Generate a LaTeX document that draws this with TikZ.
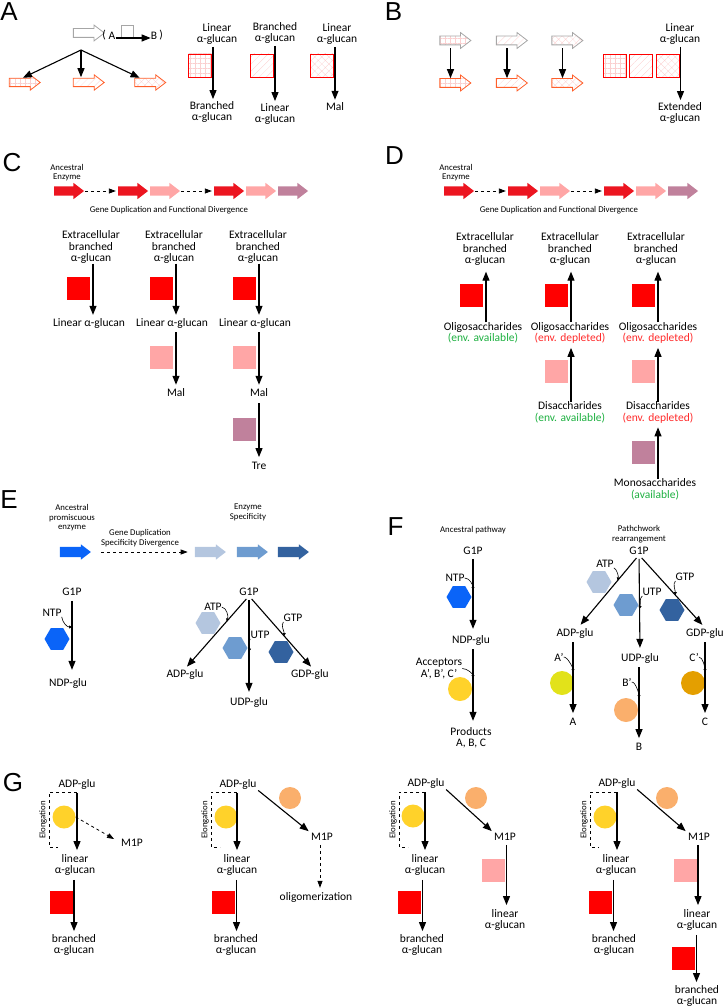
\documentclass[tikz,border=0pt]{standalone}
\usepackage{fontspec}
\setmainfont{Carlito}
\newfontfamily\letterfont{Liberation Sans}
\usetikzlibrary{arrows.meta,shapes.arrows,shapes.geometric,patterns.meta,calc}

\definecolor{greyline}{HTML}{A6A6A6}
\definecolor{orangeline}{HTML}{FF5F2A}
\definecolor{hatchpink}{HTML}{FAD0D0}
\definecolor{enzred}{HTML}{FF0000}
\definecolor{hdrred}{HTML}{EC1520}
\definecolor{enzpink}{HTML}{FFA6A6}
\definecolor{enzmauve}{HTML}{C0819C}
\definecolor{ancblue}{HTML}{0A64F8}
\definecolor{blueA}{HTML}{B4C6DF}
\definecolor{blueU}{HTML}{6E9CD0}
\definecolor{blueG}{HTML}{33629F}
\definecolor{accyellow}{HTML}{FFD22A}
\definecolor{acclime}{HTML}{E2E21A}
\definecolor{accpeach}{HTML}{FAAF6C}
\definecolor{accamber}{HTML}{E49F00}
\definecolor{envgreen}{HTML}{1DB040}
\definecolor{envred}{HTML}{FF2A2A}

\tikzset{
  lbl/.style={font=\fontsize{11.5}{11.5}\selectfont, align=center, inner sep=0pt},
  smalltxt/.style={font=\fontsize{8.8}{9.5}\selectfont, align=center, inner sep=0pt},
  panel/.style={font=\letterfont\fontsize{26}{26}\selectfont, inner sep=0pt},
  blockarrow/.style={single arrow, single arrow head extend=3.5pt, single arrow tip angle=75,
    inner xsep=0pt, inner ysep=4pt, text height=0pt, text depth=0pt, minimum height=31pt},
  hdrarrow/.style={blockarrow, inner ysep=4.5pt, minimum height=30pt},
  gridfill/.style={pattern={Hatch[angle=0,distance=5pt,line width=.3pt]}, pattern color=hatchpink},
  linefill/.style={pattern={Lines[angle=45,distance=5pt,line width=.3pt]}, pattern color=hatchpink},
  crossfill/.style={pattern={Hatch[angle=45,distance=5pt,line width=.3pt]}, pattern color=hatchpink},
  sqhatch/.style={draw=enzred, line width=.8pt, minimum size=23pt, inner sep=0pt, outer xsep=1.5pt},
  sqfill/.style={minimum size=23pt, inner sep=0pt, outer xsep=1.5pt},
  hexnode/.style={regular polygon, regular polygon sides=6, minimum size=25pt, inner sep=0pt},
  dotnode/.style={circle, minimum size=24pt, inner sep=0pt},
  flow/.style={->, line width=1.1pt},
  dashflow/.style={dashed, line width=.8pt, -{Triangle[length=7pt,width=5pt]}},
  curvy/.style={line width=.6pt, -{Triangle[length=3pt,width=3pt]}},
}

\begin{document}
\begin{tikzpicture}[x=1pt,y=-1pt,>={Triangle[length=9pt,width=7pt]}]
\useasboundingbox (0,0) rectangle (724,1008);

%% A
\node[panel] (labA) at (9,12) {A};
\node[blockarrow, draw=greyline, line width=.8pt] (ancA) at (86,33) {};
\node[lbl] (parAo) at (104,35) {(};
\node[lbl] (subA) at (112,36) {A};
\node[draw=greyline, line width=.8pt, minimum size=12pt, inner sep=0pt] (boxA) at (127,31) {};
\node[lbl] (subB) at (154,36) {B};
\node[lbl] (parAc) at (161,35) {)};
\draw[flow] ([yshift=-2pt]subA.east) -- ([yshift=-2pt]subB.west);
\coordinate (splitA) at (81,50);
\node[blockarrow, draw=orangeline, line width=.8pt, gridfill] (orgA1) at (22,82.5) {};
\node[blockarrow, draw=orangeline, line width=.8pt, linefill] (orgA2) at (86,82.5) {};
\node[blockarrow, draw=orangeline, line width=.8pt, crossfill] (orgA3) at (147.5,82.5) {};
\draw[flow, shorten >=1pt] (splitA) -- (orgA1.north);
\draw[flow, shorten >=1pt] (splitA) -- (splitA |- orgA2.north);
\draw[flow, shorten >=1pt] (splitA) -- ([xshift=-7pt]orgA3.north);
%%
\node[lbl] (linA1) at (217,34) {Linear\\α-glucan};
\node[sqhatch, gridfill] (sqA1) at (200,65.5) {};
\node[lbl] (brA1) at (212,112) {Branched\\α-glucan};
\draw[flow, shorten <=2pt, shorten >=2pt] (linA1.south -| sqA1.east) -- (brA1.north -| sqA1.east);
\node[lbl] (brA2) at (275,33) {Branched\\α-glucan};
\node[sqhatch, linefill] (sqA2) at (262,65.5) {};
\node[lbl] (linA2) at (275,114) {Linear\\α-glucan};
\draw[flow, shorten <=2pt, shorten >=2pt] (brA2.south -| sqA2.east) -- (linA2.north -| sqA2.east);
\node[lbl] (linA3) at (337,34) {Linear\\α-glucan};
\node[sqhatch, crossfill] (sqA3) at (322,65.5) {};
\node[lbl] (malA) at (335,107) {Mal};
\draw[flow, shorten <=2pt, shorten >=3pt] (linA3.south -| sqA3.east) -- (malA.north -| sqA3.east);

%% B
\node[panel] (labB) at (393.5,12) {B};
\node[blockarrow, draw=greyline, line width=.8pt, gridfill] (greyB1) at (452.5,40.5) {};
\node[blockarrow, draw=greyline, line width=.8pt, linefill] (greyB2) at (509,40.5) {};
\node[blockarrow, draw=greyline, line width=.8pt, crossfill] (greyB3) at (564.5,40.5) {};
\node[blockarrow, draw=orangeline, line width=.8pt, gridfill] (orgB1) at (452.5,83) {};
\node[blockarrow, draw=orangeline, line width=.8pt, linefill] (orgB2) at (509,83) {};
\node[blockarrow, draw=orangeline, line width=.8pt, crossfill] (orgB3) at (564.5,83) {};
\draw[flow, shorten <=3pt] ([xshift=-2pt]greyB1.south) -- ([xshift=-2pt]orgB1.north);
\draw[flow, shorten <=3pt] ([xshift=-2pt]greyB2.south) -- ([xshift=-2pt]orgB2.north);
\draw[flow, shorten <=3pt] ([xshift=-2pt]greyB3.south) -- ([xshift=-2pt]orgB3.north);
\node[sqhatch, gridfill] (sqB1) at (615,66) {};
\node[sqhatch, linefill] (sqB2) at (641,66) {};
\node[sqhatch, crossfill] (sqB3) at (667.5,66) {};
\node[lbl] (linB) at (680,34) {Linear\\α-glucan};
\node[lbl] (extB) at (680,113) {Extended\\α-glucan};
\draw[flow, shorten <=2pt, shorten >=2pt] (linB.south -| sqB3.east) -- (extB.north -| sqB3.east);

%% C
\node[panel] (labC) at (12,163) {C};
\node[smalltxt] (ancC) at (67,172.5) {Ancestral\\Enzyme};
\node[hdrarrow, fill=hdrred] (hC1) at (66,191) {};
\node[hdrarrow, fill=hdrred] (hC2) at (130,191) {};
\node[hdrarrow, fill=enzpink] (hC3) at (162,191) {};
\node[hdrarrow, fill=hdrred] (hC4) at (226,191) {};
\node[hdrarrow, fill=enzpink] (hC5) at (258,191) {};
\node[hdrarrow, fill=enzmauve] (hC6) at (290,191) {};
\draw[dashflow, shorten <=1pt, shorten >=2pt] (hC1.east) -- (hC2.west);
\draw[dashflow, shorten <=1pt, shorten >=2pt] (hC3.east) -- (hC4.west);
\node[smalltxt] (geneC) at (169,210) {Gene Duplication and Functional Divergence};
%%
\node[lbl] (extC1) at (91,247) {Extracellular\\branched\\α-glucan};
\node[sqfill, fill=enzred, outer xsep=3pt] (sqC1) at (78.5,288.5) {};
\node[lbl] (linC1) at (89,323) {Linear α-glucan};
\draw[flow, shorten >=3pt] (extC1.south -| sqC1.east) -- (linC1.north -| sqC1.east);
\node[lbl] (extC2) at (174,247) {Extracellular\\branched\\α-glucan};
\node[sqfill, fill=enzred, outer xsep=3pt] (sqC2) at (161.5,288.5) {};
\node[lbl] (linC2) at (172,323) {Linear α-glucan};
\draw[flow, shorten >=3pt] (extC2.south -| sqC2.east) -- (linC2.north -| sqC2.east);
\node[sqfill, fill=enzpink, outer xsep=3pt] (sqC2b) at (161.5,357.5) {};
\node[lbl] (malC2) at (176,393) {Mal};
\draw[flow, shorten <=4pt, shorten >=4pt] (linC2.south -| sqC2b.east) -- (malC2.north -| sqC2b.east);
\node[lbl] (extC3) at (258,247) {Extracellular\\branched\\α-glucan};
\node[sqfill, fill=enzred, outer xsep=3pt] (sqC3) at (244.5,288.5) {};
\node[lbl] (linC3) at (255,323) {Linear α-glucan};
\draw[flow, shorten >=3pt] (extC3.south -| sqC3.east) -- (linC3.north -| sqC3.east);
\node[sqfill, fill=enzpink, outer xsep=3pt] (sqC3b) at (244.5,357.5) {};
\node[lbl] (malC3) at (259,393) {Mal};
\draw[flow, shorten <=4pt, shorten >=4pt] (linC3.south -| sqC3b.east) -- (malC3.north -| sqC3b.east);
\node[sqfill, fill=enzmauve, outer xsep=3pt] (sqC3c) at (244.5,429) {};
\node[lbl] (treC) at (259,466) {Tre};
\draw[flow, shorten <=6pt, shorten >=5pt] (malC3.south -| sqC3c.east) -- (treC.north -| sqC3c.east);

%% D
\node[panel] (labD) at (394.5,156) {D};
\node[smalltxt] (ancD) at (456,172.5) {Ancestral\\Enzyme};
\node[hdrarrow, fill=hdrred] (hD1) at (456,191) {};
\node[hdrarrow, fill=hdrred] (hD2) at (520,191) {};
\node[hdrarrow, fill=enzpink] (hD3) at (552,191) {};
\node[hdrarrow, fill=hdrred] (hD4) at (616,191) {};
\node[hdrarrow, fill=enzpink] (hD5) at (648,191) {};
\node[hdrarrow, fill=enzmauve] (hD6) at (680,191) {};
\draw[dashflow, shorten <=1pt, shorten >=2pt] (hD1.east) -- (hD2.west);
\draw[dashflow, shorten <=1pt, shorten >=2pt] (hD3.east) -- (hD4.west);
\node[smalltxt] (geneD) at (559,210) {Gene Duplication and Functional Divergence};
%%
\node[lbl] (extD1) at (485,249) {Extracellular\\branched\\α-glucan};
\node[sqfill, fill=enzred, outer xsep=3pt] (sqD1) at (471.5,295.5) {};
\node[lbl] (oligD1) at (483,333) {Oligosaccharides\\\textcolor{envgreen}{(env. available)}};
\draw[flow, shorten >=6pt] (oligD1.north -| sqD1.east) -- (extD1.south -| sqD1.east);
\node[lbl] (extD2) at (570,249) {Extracellular\\branched\\α-glucan};
\node[sqfill, fill=enzred, outer xsep=3pt] (sqD2) at (556.5,295.5) {};
\node[lbl] (oligD2) at (570,333) {Oligosaccharides\\\textcolor{envred}{(env. depleted)}};
\draw[flow, shorten >=6pt] (oligD2.north -| sqD2.east) -- (extD2.south -| sqD2.east);
\node[sqfill, fill=enzpink, outer xsep=3pt] (sqD2b) at (556.5,371.5) {};
\node[lbl] (disD2) at (570,412.5) {Disaccharides\\\textcolor{envgreen}{(env. available)}};
\draw[flow, shorten >=4pt] (disD2.north -| sqD2b.east) -- (oligD2.south -| sqD2b.east);
\node[lbl] (extD3) at (656,249) {Extracellular\\branched\\α-glucan};
\node[sqfill, fill=enzred, outer xsep=3pt] (sqD3) at (643.5,295.5) {};
\node[lbl] (oligD3) at (658,333) {Oligosaccharides\\\textcolor{envred}{(env. depleted)}};
\draw[flow, shorten >=6pt] (oligD3.north -| sqD3.east) -- (extD3.south -| sqD3.east);
\node[sqfill, fill=enzpink, outer xsep=3pt] (sqD3b) at (643.5,371.5) {};
\node[lbl] (disD3) at (658,412.5) {Disaccharides\\\textcolor{envred}{(env. depleted)}};
\draw[flow, shorten >=4pt] (disD3.north -| sqD3b.east) -- (oligD3.south -| sqD3b.east);
\node[sqfill, fill=enzmauve, outer xsep=3pt] (sqD3c) at (643.5,452) {};
\node[lbl] (monoD) at (655,489.5) {Monosaccharides\\\textcolor{envgreen}{(available)}};
\draw[flow, shorten >=4pt] (monoD.north -| sqD3c.east) -- (disD3.south -| sqD3c.east);

%% E
\node[panel] (labE) at (9,500) {E};
\node[smalltxt] (ancE) at (72,518) {Ancestral\\promiscuous\\enzyme};
\node[smalltxt] (geneE) at (140,538) {Gene Duplication\\Specificity Divergence};
\node[smalltxt] (specE) at (248,512.5) {Enzyme\\Specificity};
\node[blockarrow, inner ysep=5pt, single arrow head extend=2.5pt, fill=ancblue] (eAnc) at (72,552) {};
\node[blockarrow, inner ysep=5pt, single arrow head extend=2.5pt, fill=blueA] (eA) at (207,552) {};
\node[blockarrow, inner ysep=5pt, single arrow head extend=2.5pt, fill=blueU] (eU) at (249,552) {};
\node[blockarrow, inner ysep=5pt, single arrow head extend=2.5pt, fill=blueG] (eG) at (290,552) {};
\draw[dashflow, shorten <=10pt, shorten >=7pt] (eAnc.east) -- (eA.west);
%%
\node[lbl] (g1pE1) at (72,592) {G1P};
\node[lbl] (ndpE) at (68,683) {NDP-glu};
\draw[flow, shorten <=5pt, shorten >=8pt] (g1pE1.south) -- (g1pE1.south |- ndpE.north);
\node[lbl] (ntpE) at (52,613) {NTP};
\node[hexnode, fill=ancblue] (hexE) at (57,639) {};
\coordinate (hitNE) at (72,627);
\draw[curvy] (ntpE.south east) .. controls +(1,6) and +(-5,0) .. (hitNE);
%%
\node[lbl] (g1pE2) at (249,592) {G1P};
\node[lbl] (adpE) at (185,674) {ADP-glu};
\node[lbl] (udpE) at (249,702) {UDP-glu};
\node[lbl] (gdpE) at (310,674) {GDP-glu};
\draw[flow, shorten <=4pt, shorten >=3pt] (g1pE2.south) -- (adpE.north);
\draw[flow, shorten <=4pt, shorten >=5pt] (g1pE2.south) -- (udpE.north);
\draw[flow, shorten <=4pt, shorten >=3pt] (g1pE2.south) -- ([xshift=3pt]gdpE.north);
\node[lbl] (atpE) at (213,607) {ATP};
\node[hexnode, fill=blueA] (hexAE) at (208,623) {};
\node[lbl] (utpE) at (260,635) {UTP};
\node[hexnode, fill=blueU] (hexUE) at (235,648) {};
\node[lbl] (gtpE) at (293,618) {GTP};
\node[hexnode, fill=blueG] (hexGE) at (281,652) {};
\coordinate (hitAE) at ($(g1pE2.south)!0.35!(adpE.north)$);
\coordinate (hitUE) at ($(g1pE2.south)!0.55!(udpE.north)$);
\coordinate (hitGE) at ($(g1pE2.south)!0.55!([xshift=3pt]gdpE.north)$);
\draw[curvy] (atpE.east) .. controls +(5,1) and +(2,-5) .. (hitAE);
\draw[curvy] (utpE.south west) .. controls +(-3,2) and +(1,-5) .. (hitUE);
\draw[curvy] (gtpE.south west) .. controls +(-3,3) and +(0,-5) .. (hitGE);

%% F
\node[panel] (labF) at (395.5,527) {F};
\node[smalltxt] (ancF) at (473,530) {Ancestral pathway};
\node[lbl] (g1pF1) at (473,551) {G1P};
\node[lbl] (ndpF) at (471,640) {NDP-glu};
\node[lbl] (prodF) at (471,737.5) {Products\\A, B, C};
\draw[flow, shorten <=4pt, shorten >=6pt] (g1pF1.south) -- (g1pF1.south |- ndpF.north);
\draw[flow, shorten <=4pt, shorten >=6pt] (ndpF.south -| g1pF1.south) -- (prodF.north -| g1pF1.south);
\node[lbl] (ntpF) at (455,578) {NTP};
\node[hexnode, fill=ancblue] (hexF) at (459,597) {};
\coordinate (hitNF) at (473,590);
\draw[curvy] (ntpF.east) .. controls +(5,0) and +(0,-5) .. (hitNF);
\node[lbl] (accF) at (439,668.5) {Acceptors\\A’, B’, C’};
\node[dotnode, fill=accyellow] (circF) at (460,689) {};
\coordinate (hitAcc) at (473,678);
\draw[curvy] (accF.east) .. controls +(5,0) and +(0,-4) .. (hitAcc);
%%
\node[smalltxt] (pathF) at (639,534) {Pathchwork\\rearrangement};
\node[lbl] (g1pF2) at (639,551) {G1P};
\node[lbl] (adpF) at (575,633) {ADP-glu};
\node[lbl] (udpF) at (640,658) {UDP-glu};
\node[lbl] (gdpF) at (705,633) {GDP-glu};
\draw[flow, shorten <=4pt, shorten >=4pt] (g1pF2.south) -- ([xshift=3pt]adpF.north);
\draw[flow, shorten <=4pt, shorten >=5pt] (g1pF2.south) -- (udpF.north);
\draw[flow, shorten <=4pt, shorten >=4pt] (g1pF2.south) -- (gdpF.north);
\node[lbl] (atpF) at (605,564) {ATP};
\node[hexnode, fill=blueA] (hexAF) at (599,582) {};
\node[lbl] (utpF) at (652,592) {UTP};
\node[hexnode, fill=blueU] (hexUF) at (626,605) {};
\node[lbl] (gtpF) at (685,577) {GTP};
\node[hexnode, fill=blueG] (hexGF) at (672,610) {};
\coordinate (hitAF) at ($(g1pF2.south)!0.35!([xshift=3pt]adpF.north)$);
\coordinate (hitUF) at ($(g1pF2.south)!0.55!(udpF.north)$);
\coordinate (hitGF) at ($(g1pF2.south)!0.55!(gdpF.north)$);
\draw[curvy] (atpF.south east) .. controls +(3,1) and +(1,-4) .. (hitAF);
\draw[curvy] (utpF.south west) .. controls +(-3,2) and +(1,-5) .. (hitUF);
\draw[curvy] (gtpF.south west) .. controls +(-3,3) and +(0,-5) .. (hitGF);
%%
\node[lbl] (aF) at (559,657) {A’};
\node[dotnode, fill=acclime] (circAF) at (562,683) {};
\node[lbl] (aOut) at (573,722) {A};
\draw[flow, shorten <=4pt, shorten >=5pt] (adpF.south -| aOut.north) -- (aOut.north);
\coordinate (hitAp) at (573,672);
\draw[curvy] (aF.east) .. controls +(4,0) and +(0,-4) .. (hitAp);
\node[lbl] (bF) at (627,682) {B’};
\node[dotnode, fill=accpeach] (circBF) at (626,710) {};
\node[lbl] (bOut) at (639,747) {B};
\draw[flow, shorten <=4pt, shorten >=5pt] (udpF.south -| bOut.north) -- (bOut.north);
\coordinate (hitBp) at (639,698);
\draw[curvy] (bF.east) .. controls +(4,0) and +(0,-4) .. (hitBp);
\node[lbl] (cF) at (694,657) {C’};
\node[dotnode, fill=accamber] (circCF) at (693,683) {};
\node[lbl] (cOut) at (705,722) {C};
\draw[flow, shorten <=4pt, shorten >=5pt] (gdpF.south -| cOut.north) -- (cOut.north);
\coordinate (hitCp) at (705,672);
\draw[curvy] (cF.east) .. controls +(4,0) and +(0,-4) .. (hitCp);

%% G
\node[panel] (labG) at (13,782.5) {G};
%% G, first column
\node[lbl] (adpG1) at (77,784) {ADP-glu};
\draw[dashed, line width=.6pt] (77,792) -- (49,792) -- (49,847) -- (58,847);
\node[smalltxt, rotate=90] (elG1) at (43,820) {Elongation};
\node[dotnode, minimum size=23pt, fill=accyellow] (circG1) at (64,817) {};
\node[lbl] (linG1) at (75,865) {linear\\α-glucan};
\draw[flow, shorten <=4pt, shorten >=4pt] (adpG1.south) -- (adpG1.south |- linG1.north);
\node[lbl] (m1pG1) at (132,843) {M1P};
\draw[dashflow, shorten >=8pt] (circG1.east) -- (m1pG1.west);
\node[sqfill, fill=enzred] (sqG1) at (61,902) {};
\node[lbl] (brG1) at (74,945) {branched\\α-glucan};
\draw[flow, shorten <=4pt, shorten >=3pt] (linG1.south -| sqG1.east) -- (brG1.north -| sqG1.east);
%% G, second column
\node[lbl] (adpG2) at (238,784) {ADP-glu};
\draw[dashed, line width=.6pt] (237,792) -- (211,792) -- (211,847) -- (220,847);
\node[smalltxt, rotate=90] (elG2) at (205,820) {Elongation};
\node[dotnode, minimum size=23pt, fill=accyellow] (circG2) at (226,817) {};
\node[lbl] (linG2) at (237,865) {linear\\α-glucan};
\draw[flow, shorten <=4pt, shorten >=4pt] ([xshift=-1pt]adpG2.south) -- ([xshift=-1pt]adpG2.south |- linG2.north);
\node[dotnode, minimum size=22pt, fill=accpeach] (circO2) at (290,798) {};
\node[lbl] (m1pG2) at (322,837) {M1P};
\draw[flow, shorten <=2pt, shorten >=3pt] (adpG2.south east) -- (m1pG2.north west);
\node[lbl] (oligoG) at (316,897) {oligomerization};
\draw[dashflow, shorten <=4pt, shorten >=4pt] ([xshift=-2pt]m1pG2.south) -- ([xshift=-2pt]m1pG2.south |- oligoG.north);
\node[sqfill, fill=enzred] (sqG2) at (223.5,902) {};
\node[lbl] (brG2) at (236,945) {branched\\α-glucan};
\draw[flow, shorten <=4pt, shorten >=3pt] (linG2.south -| sqG2.east) -- (brG2.north -| sqG2.east);
%% G, third column
\node[lbl] (adpG3) at (426,783) {ADP-glu};
\draw[dashed, line width=.6pt] (425,792) -- (399,792) -- (399,847) -- (408,847);
\node[smalltxt, rotate=90] (elG3) at (393,820) {Elongation};
\node[dotnode, minimum size=23pt, fill=accyellow] (circG3) at (413,816) {};
\node[lbl] (linG3) at (425,865) {linear\\α-glucan};
\draw[flow, shorten <=4pt, shorten >=4pt] ([xshift=-1pt]adpG3.south) -- ([xshift=-1pt]adpG3.south |- linG3.north);
\node[dotnode, minimum size=22pt, fill=accpeach] (circO3) at (476,798) {};
\node[lbl] (m1pG3) at (505,837) {M1P};
\draw[flow, shorten <=2pt, shorten >=3pt] (adpG3.south east) -- (m1pG3.north west);
\node[sqfill, fill=enzpink] (sqG3b) at (493.5,870) {};
\node[lbl] (linG3b) at (505,920) {linear\\α-glucan};
\draw[flow, shorten <=4pt, shorten >=4pt] (m1pG3.south -| sqG3b.east) -- (linG3b.north -| sqG3b.east);
\node[sqfill, fill=enzred] (sqG3) at (409.5,902) {};
\node[lbl] (brG3) at (422,945) {branched\\α-glucan};
\draw[flow, shorten <=4pt, shorten >=3pt] (linG3.south -| sqG3.east) -- (brG3.north -| sqG3.east);
%% G, fourth column
\node[lbl] (adpG4) at (617,783) {ADP-glu};
\draw[dashed, line width=.6pt] (617,792) -- (590,792) -- (590,847) -- (599,847);
\node[smalltxt, rotate=90] (elG4) at (584,820) {Elongation};
\node[dotnode, minimum size=23pt, fill=accyellow] (circG4) at (605,817) {};
\node[lbl] (linG4) at (616,865) {linear\\α-glucan};
\draw[flow, shorten <=4pt, shorten >=4pt] (adpG4.south) -- (adpG4.south |- linG4.north);
\node[dotnode, minimum size=22pt, fill=accpeach] (circO4) at (667,798) {};
\node[lbl] (m1pG4) at (699,837) {M1P};
\draw[flow, shorten <=2pt, shorten >=3pt] (adpG4.south east) -- (m1pG4.north west);
\node[sqfill, fill=enzpink] (sqG4b) at (685,870) {};
\node[lbl] (linG4b) at (697,920) {linear\\α-glucan};
\draw[flow, shorten <=4pt, shorten >=4pt] (m1pG4.south -| sqG4b.east) -- (linG4b.north -| sqG4b.east);
\node[sqfill, fill=enzred] (sqG4c) at (683.5,958) {};
\node[lbl] (brG4b) at (697,996) {branched\\α-glucan};
\draw[flow, shorten <=4pt, shorten >=3pt] (linG4b.south -| sqG4c.east) -- (brG4b.north -| sqG4c.east);
\node[sqfill, fill=enzred] (sqG4) at (600.5,902) {};
\node[lbl] (brG4) at (614,945) {branched\\α-glucan};
\draw[flow, shorten <=4pt, shorten >=3pt] (linG4.south -| sqG4.east) -- (brG4.north -| sqG4.east);
\end{tikzpicture}
\end{document}
